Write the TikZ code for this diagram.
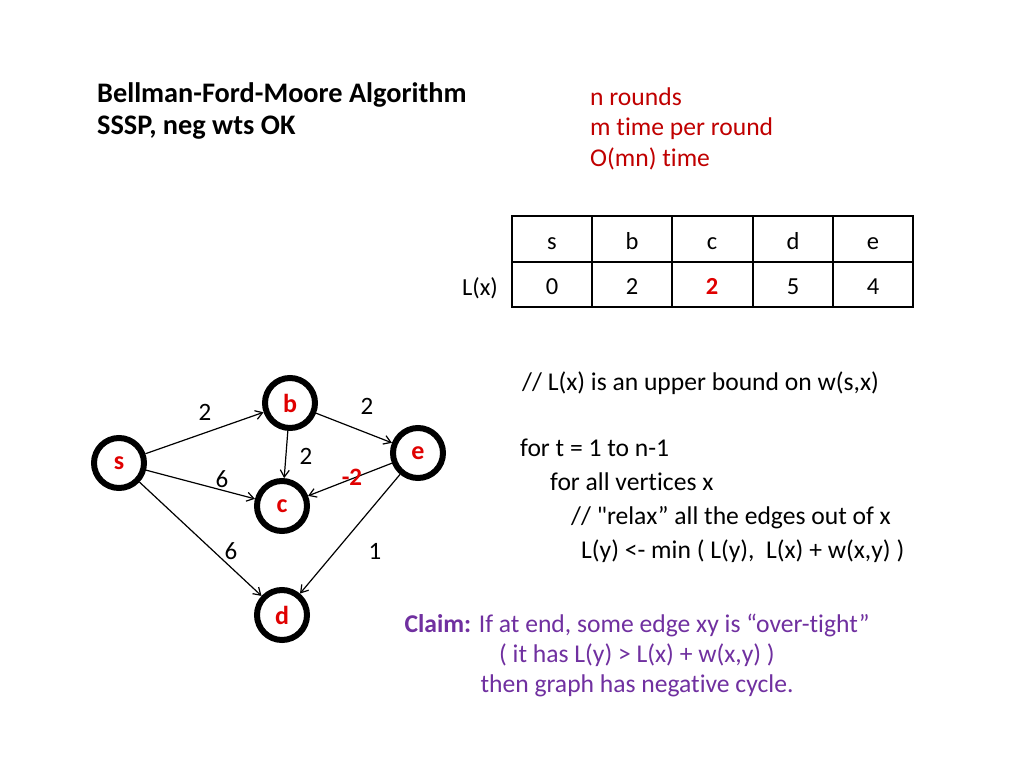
\documentclass[tikz,border=0pt]{standalone}
\usepackage{fontspec}
\setmainfont{Carlito}
\newfontfamily\calib[Ligatures=NoCommon]{Carlito}
\usetikzlibrary{arrows.meta}
\definecolor{nodered}{HTML}{E00000}
\definecolor{darkred}{HTML}{C00000}
\definecolor{claimpurple}{HTML}{7030A0}
\begin{document}
\begin{tikzpicture}[x=1pt,y=-1pt,
  vtx/.style={circle,draw=black,line width=6pt,minimum size=50pt,inner sep=0pt,
    text=nodered,font=\calib\fontsize{26}{30}\selectfont\bfseries},
  edgearrow/.style={line width=1.2pt,-{Straight Barb[length=7pt,width=9pt,line width=1.2pt]}},
  wt/.style={font=\calib\fontsize{25}{30}\selectfont,inner sep=0pt},
  txt/.style={anchor=base west,inner sep=0pt,font=\calib\fontsize{25.6}{30}\selectfont},
  title/.style={anchor=base west,inner sep=0pt,font=\calib\fontsize{28.3}{34}\selectfont\bfseries},
  cell/.style={anchor=base,font=\calib\fontsize{24.5}{28}\selectfont,inner sep=0pt}
]
\useasboundingbox[fill=white] (0,0) rectangle (1024,768);

% title
\node[title] (t1) at (97,102) {Bellman-Ford-Moore Algorithm};
\node[title] (t2) at (97,134) {SSSP, neg wts OK};

% complexity
\node[txt,text=darkred] (r1) at (590,105) {n rounds};
\node[txt,text=darkred] (r2) at (590,135.5) {m time per round};
\node[txt,text=darkred] (r3) at (590,166) {O(mn) time};

% table
\draw[line width=1.2pt] (512,216) rectangle (913,307);
\draw[line width=1.2pt] (512,262) -- (913,262);
\foreach \xx in {592,672,753,833} \draw[line width=1.2pt] (\xx,216) -- (\xx,307);
\node[cell] (hs) at (552,249) {s};
\node[cell] (hb) at (632,249) {b};
\node[cell] (hc) at (712,249) {c};
\node[cell] (hd) at (793,249) {d};
\node[cell] (he) at (873,249) {e};
\node[cell] (v0) at (552,294) {0};
\node[cell] (v1) at (632,294) {2};
\node[cell,text=nodered,font=\calib\fontsize{24.5}{28}\selectfont\bfseries] (v2) at (712,294) {2};
\node[cell] (v3) at (793,294) {5};
\node[cell] (v4) at (873,294) {4};
\node[cell] (lx) at (480,295) {L(x)};

% graph
\node[vtx] (s) at (119,463) {s};
\node[vtx] (b) at (290,403) {b};
\node[vtx] (c) at (282,506) {c};
\node[vtx] (e) at (418,453) {e};
\node[vtx] (d) at (282,615) {d};

\draw[edgearrow] (s) -- (b);
\draw[edgearrow] (s) -- (c);
\draw[edgearrow] (s) -- (d);
\draw[edgearrow] (b) -- (c);
\draw[edgearrow] (b) -- (e);
\draw[edgearrow] (e) -- (c);
\draw[edgearrow] (e) -- (d);

\node[wt] (w1) at (205,412) {2};
\node[wt] (w2) at (367,406) {2};
\node[wt] (w3) at (222,479) {6};
\node[wt] (w4) at (306,456) {2};
\node[wt,text=nodered,font=\calib\fontsize{25}{30}\selectfont\bfseries] (w5) at (352,477) {-2};
\node[wt] (w6) at (231,551) {6};
\node[wt] (w7) at (375,551) {1};

% pseudocode
\node[txt] (p1) at (522,390) {// L(x) is an upper bound on w(s,x)};
\node[txt] (p2) at (520,456) {for t = 1 to n-1};
\node[txt] (p3) at (550,490) {for all vertices x};
\node[txt] (p4) at (571,524) {// "relax” all the edges out of x};
\node[txt] (p5) at (581,558) {L(y) <- min ( L(y),\ \ L(x) + w(x,y) )};

% claim
\node[anchor=base,inner sep=0pt,text=claimpurple,font=\calib\fontsize{25.6}{30}\selectfont] (c1) at (637,632) {\textbf{Claim:} If at end, some edge xy is “over-tight”};
\node[anchor=base,inner sep=0pt,text=claimpurple,font=\calib\fontsize{25.6}{30}\selectfont] (c2) at (637,662) {( it has L(y) > L(x) + w(x,y) )};
\node[anchor=base,inner sep=0pt,text=claimpurple,font=\calib\fontsize{25.6}{30}\selectfont] (c3) at (637,692) {then graph has negative cycle.};
\end{tikzpicture}
\end{document}
